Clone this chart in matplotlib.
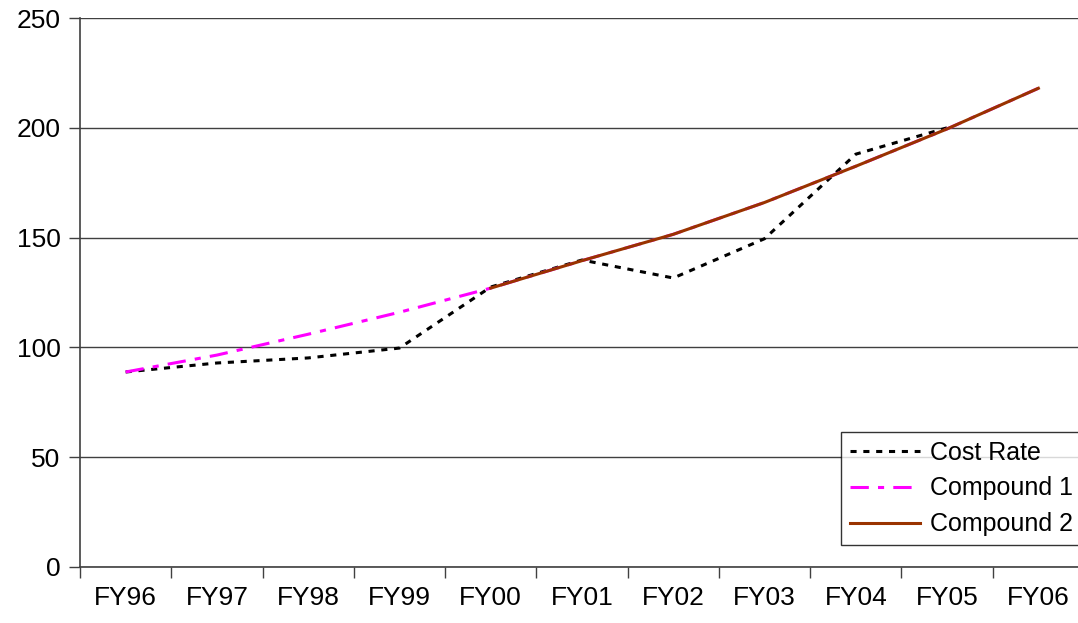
import matplotlib
matplotlib.use('Agg')
from matplotlib import pyplot as plt
import numpy as np

plt.rcParams['font.family'] = ['Liberation Sans', 'DejaVu Sans']

years = ['FY96', 'FY97', 'FY98', 'FY99', 'FY00', 'FY01', 'FY02', 'FY03', 'FY04', 'FY05', 'FY06']
cost_rate = [88.8, 92.9, 95.2, 99.7, 127.5, 139.8, 131.6, 149.5, 188.0, 200.0, None]
compound_1 = [88.8, 96.5, 106.0, 116.0, 127.0, 139.5, 151.5, 166.0, 182.5, 199.5, 218.0]
compound_2 = [None, None, None, None, 127.0, 139.5, 151.5, 166.0, 182.5, 199.5, 218.0]


def to_arr(vals):
    return np.array([np.nan if v is None else v for v in vals], dtype=float)


x = np.arange(len(years))

fig = plt.figure(figsize=(10.78, 6.23), dpi=100)
ax = fig.add_axes([80 / 1078, 1 - 567 / 623, 1004 / 1078, 549 / 623])

ax.plot(x, to_arr(cost_rate), color='black', linestyle=(0, (2, 2.2)), linewidth=2.2, label='Cost Rate')
ax.plot(x, to_arr(compound_1), color='#FF00FF', linestyle=(0, (6, 3, 2, 3)), linewidth=2.2, label='Compound 1')
ax.plot(x, to_arr(compound_2), color='#993300', linestyle='-', linewidth=2.2, label='Compound 2')

ax.set_xlim(-0.5, len(years) - 0.5)
ax.set_ylim(0, 250)
ax.set_yticks(range(0, 251, 50))
ax.yaxis.grid(True, color='#404040', linewidth=1)
ax.set_axisbelow(True)

ax.set_xticks(x)
ax.set_xticklabels(years)
ax.set_xticks(np.arange(-0.5, len(years), 1), minor=True)
ax.tick_params(axis='x', which='major', length=0, pad=14, labelsize=19)
ax.tick_params(axis='x', which='minor', length=8, width=1, color='#404040')
ax.tick_params(axis='y', length=8, width=1, color='#404040', labelsize=19, pad=6)

for side in ['top', 'right']:
    ax.spines[side].set_visible(False)
for side in ['left', 'bottom']:
    ax.spines[side].set_color('#404040')
    ax.spines[side].set_linewidth(1.2)

leg = ax.legend(loc='upper left', bbox_to_anchor=(841 / 1078, 1 - 432 / 623),
                bbox_transform=fig.transFigure, fontsize=18, frameon=True,
                fancybox=False, handlelength=2.8, handletextpad=0.42,
                borderpad=0.35, labelspacing=0.47, borderaxespad=0)
leg.get_frame().set_edgecolor('black')
leg.get_frame().set_linewidth(1)

fig.savefig('out.png', dpi=100)
